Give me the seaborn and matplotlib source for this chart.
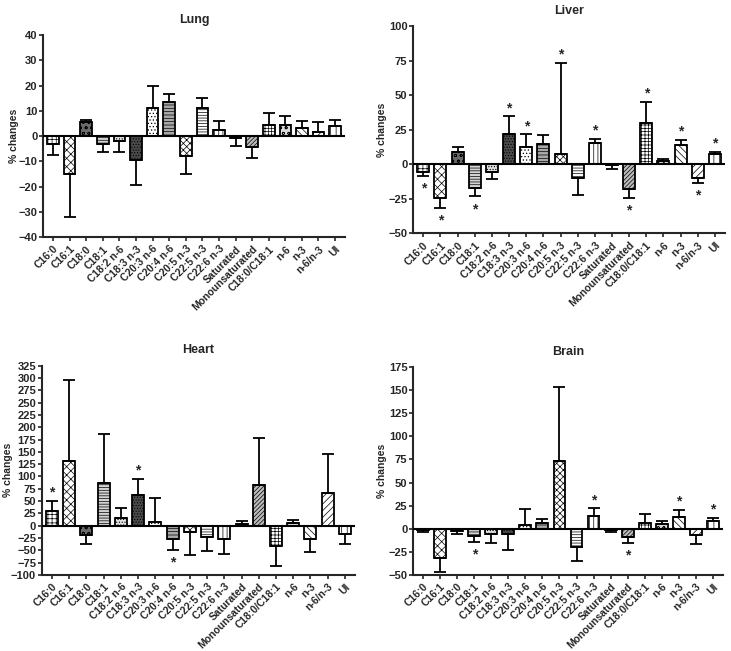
import numpy as np
import matplotlib
matplotlib.use("Agg")
import matplotlib.pyplot as plt
import seaborn as sns

cats = ["C16:0", "C16:1", "C18:0", "C18:1", "C18:2 n-6", "C18:3 n-3",
        "C20:3 n-6", "C20:4 n-6", "C20:5 n-3", "C22:5 n-3", "C22:6 n-3",
        "Saturated", "Monounsaturated", "C18:0/C18:1", "n-6", "n-3",
        "n-6/n-3", "UI"]

# mean % change and SEM (one-sided bars, away from zero)
lung_vals = [-3, -15, 5.5, -3, -2, -9.5, 11, 13.5, -8, 11, 2.5, -0.8, -4.5, 4.5, 4.5, 3, 1.5, 4]
lung_err = [4.5, 17, 1, 3.5, 4.5, 10, 9, 3, 7, 4, 3.5, 3.2, 4, 4.5, 3.5, 3, 4, 2.5]
lung_star = []

liver_vals = [-5.7, -24.5, 8.5, -17, -5.5, 22, 12, 14.5, 7, -10, 15, -0.8, -18, 30, 2.4, 14, -10, 7]
liver_err = [3, 7, 4, 6.5, 5.5, 12.5, 9.5, 6.5, 66.5, 12.5, 3.5, 2.5, 6.5, 15, 1, 3.5, 3.6, 1.7]
liver_star = ["C16:0", "C16:1", "C18:1", "C18:3 n-3", "C20:3 n-6", "C20:5 n-3",
              "C22:6 n-3", "Monounsaturated", "C18:0/C18:1", "n-3", "n-6/n-3", "UI"]

heart_vals = [29, 132, -19.6, 86, 15.5, 63, 6.8, -27, -12, -23, -27, 3.4, 82, -41, 4.7, -27, 67, -17.6]
heart_err = [22, 165, 17.4, 100, 21, 32, 50, 21.6, 47, 29, 31, 6, 97, 41, 7.3, 26, 79, 19.4]
heart_star = ["C16:0", "C18:3 n-3", "C20:4 n-6"]

brain_vals = [-1.4, -32, -3, -8.2, -5.4, -6, 4, 5.7, 73, -20, 13.6, -1.8, -9, 5.7, 4.6, 12.5, -7, 8.2]
brain_err = [2.2, 15, 2.4, 6.1, 10, 17.3, 17.5, 4.3, 80, 15, 8.4, 2.2, 6, 10.3, 3.6, 7.5, 9.5, 3.8]
brain_star = ["C18:1", "C22:6 n-3", "Monounsaturated", "n-3", "UI"]

faces = ["white", "white", "#6a6a6a", "#d4d4d4", "#e2e2e2", "#4a4a4a",
         "white", "#a8a8a8", "white", "white", "white", "#606060",
         "#bcbcbc", "white", "#d8d8d8", "white", "white", "white"]
hatches = ["++++", "xxxx", "ooo", "------", "......", "......",
           ".....", "-----", "XXXXX", "------", "||||", "....",
           "////////", "+++++", "ooo", "\\\\\\\\\\", "/////", "|||"]

sns.set_style("ticks")
plt.rcParams["font.family"] = ["Liberation Sans", "DejaVu Sans"]
plt.rcParams["font.weight"] = "bold"
plt.rcParams["axes.labelweight"] = "bold"
plt.rcParams["axes.titleweight"] = "bold"
plt.rcParams["hatch.linewidth"] = 0.5

fig = plt.figure(figsize=(7.31, 6.51), dpi=100)

panels = [
    ("Lung", lung_vals, lung_err, lung_star, (-40, 40), 10, [0.059, 0.636, 0.413, 0.310], -0.08),
    ("Liver", liver_vals, liver_err, liver_star, (-50, 100), 25, [0.565, 0.642, 0.427, 0.318], -0.083),
    ("Heart", heart_vals, heart_err, heart_star, (-100, 325), 25, [0.057, 0.117, 0.429, 0.321], -0.09),
    ("Brain", brain_vals, brain_err, brain_star, (-50, 175), 25, [0.565, 0.117, 0.424, 0.319], -0.083),
]

for title, vals, err, stars, ylim, step, rect, labx in panels:
    ax = fig.add_axes(rect)
    vals = np.array(vals)
    err = np.array(err)
    sns.barplot(x=cats, y=vals, hue=cats, palette=faces, order=cats,
                width=0.7, edgecolor="black", linewidth=1.3, legend=False, ax=ax)
    for p, h in zip(ax.patches, hatches):
        p.set_hatch(h)
    x = np.arange(len(cats))
    lower = np.where(vals < 0, err, 0)
    upper = np.where(vals >= 0, err, 0)
    ax.errorbar(x, vals, yerr=[lower, upper], fmt="none", ecolor="black",
                elinewidth=1.3, capsize=4, capthick=1.3, zorder=1)
    ax.axhline(0, color="black", lw=1.5, zorder=3)
    for s in stars:
        i = cats.index(s)
        if vals[i] >= 0:
            ax.annotate("*", (i, vals[i] + err[i]), xytext=(0, 1), textcoords="offset points",
                        ha="center", va="bottom", fontsize=10)
        else:
            ax.annotate("*", (i, vals[i] - err[i]), xytext=(0, -4), textcoords="offset points",
                        ha="center", va="top", fontsize=10)
    ax.set_xlim(-0.6, len(cats) - 0.4)
    ax.set_ylim(*ylim)
    ax.set_yticks(np.arange(ylim[0], ylim[1] + 1, step))
    ax.set_xticks(x)
    ax.set_xticklabels(cats, rotation=45, ha="right", rotation_mode="anchor", fontsize=7.5)
    ax.tick_params(axis="y", labelsize=8, width=1.2, length=3, pad=1)
    ax.tick_params(axis="x", width=1.2, length=3, pad=2)
    ax.set_ylabel("% changes", fontsize=7.5)
    ax.yaxis.set_label_coords(labx, 0.5)
    ax.set_xlabel("")
    ax.set_title(title, fontsize=9, pad=9)
    sns.despine(ax=ax)
    ax.spines["left"].set_linewidth(1.5)
    ax.spines["bottom"].set_linewidth(1.5)

fig.savefig("out.png", dpi=100, facecolor="white")
